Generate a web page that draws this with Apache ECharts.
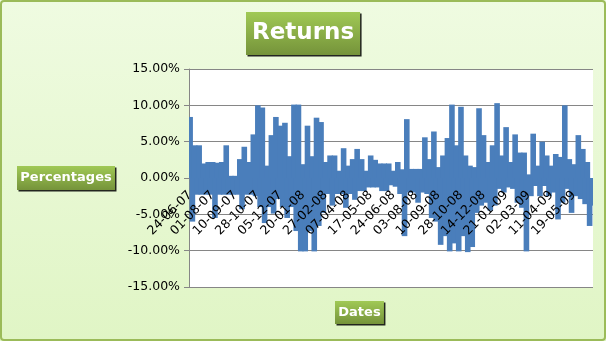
<!DOCTYPE html>
<html>
<head>
<meta charset="utf-8">
<script src="https://cdn.jsdelivr.net/npm/echarts@6/dist/echarts.min.js"></script>
<style>
html,body{margin:0;padding:0;background:#fff;}
#c{width:606px;height:341px;}
</style>
</head>
<body>
<div id="c"></div>
<script>
// Tick-label dates (one every 10 bars)
var tickDates = ['24-06-07','01-08-07','10-09-07','28-10-07','05-12-07','20-01-08',
  '27-02-08','07-04-08','17-05-08','24-06-08','03-08-08','10-09-08',
  '28-10-08','14-12-08','21-01-09','02-03-09','11-04-09','19-05-09'];
var barsPerTick = 10;
// Returns (%), 10 values per tick period
var returns = [
  8.4, -6.0, 4.5, -2.3, 4.5, -2.3, 2.0, -2.3, 2.2, -2.3,
  2.2, -5.5, 2.1, -2.3, 2.2, -2.3, 4.5, -2.3, 0.3, -2.3,
  0.3, -2.3, 2.6, -4.3, 4.3, -2.3, 2.2, -2.3, 6.0, -2.5,
  10.0, -4.0, 9.7, -6.2, 1.7, -4.0, 5.9, -4.9, 8.4, -2.9,
  7.2, -4.0, 7.6, -5.5, 3.0, -4.0, 10.1, -7.3, 10.1, -10.1,
  1.9, -10.1, 7.2, -7.3, 3.0, -10.1, 8.3, -6.6, 7.7, -4.8,
  2.2, -2.2, 3.1, -3.8, 3.1, -2.2, 1.0, -2.2, 4.1, -4.1,
  1.7, -2.2, 2.6, -3.0, 4.0, -1.8, 2.6, -1.8, 1.0, -1.3,
  3.1, -1.3, 2.5, -1.3, 2.0, -1.8, 2.0, -1.8, 2.0, -1.0,
  1.0, -1.2, 2.2, -2.2, 1.2, -8.0, 8.1, -2.0, 1.25, -2.0,
  1.25, -3.4, 1.25, -2.0, 5.6, -2.2, 2.6, -5.5, 6.4, -6.0,
  1.5, -9.2, 3.1, -8.0, 5.5, -10.1, 10.1, -9.0, 4.5, -10.1,
  9.8, -8.0, 3.1, -10.2, 1.7, -9.5, 1.5, -4.8, 9.6, -3.8,
  5.9, -3.4, 2.2, -4.5, 4.5, -3.8, 10.3, -1.5, 3.1, -2.0,
  7.0, -1.3, 2.2, -1.5, 6.0, -3.4, 3.5, -4.1, 3.5, -10.1,
  0.5, -2.5, 6.1, -1.1, 1.7, -2.5, 5.0, -1.1, 3.1, -2.5,
  1.7, -2.0, 3.3, -5.7, 2.9, -3.4, 10.0, -1.5, 2.6, -4.8,
  1.9, -2.5, 5.9, -2.9, 4.0, -3.6, 2.2, -6.6, -3.8
];
var yTicks = [-15, -10, -5, 0, 5, 10, 15];

var categories = returns.map(function (v, i) {
  return i % barsPerTick === 0 ? (tickDates[i / barsPerTick] || '') : '';
});

var FONT = 'DejaVu Sans';
var GRID = {left: 189, right: 13, top: 69, bottom: 54};
var plotH = 341 - GRID.top - GRID.bottom;
// distance from the bottom of the plot to the 0% line
var zeroOffset = plotH * (0 - yTicks[0]) / (yTicks[yTicks.length - 1] - yTicks[0]);

function greenGrad() {
  return new echarts.graphic.LinearGradient(0, 0, 0, 1, [
    {offset: 0, color: '#a0c955'},
    {offset: 1, color: '#75933a'}
  ]);
}
function boxTitle(text, left, top, size, lh, pad) {
  return {
    text: text, left: left, top: top, padding: pad,
    backgroundColor: greenGrad(),
    shadowColor: 'rgba(0,0,0,0.85)', shadowOffsetX: 1.5, shadowOffsetY: 1.5, shadowBlur: 0,
    textStyle: {color: '#ffffff', fontSize: size, fontWeight: 'bold', fontFamily: FONT, lineHeight: lh}
  };
}

var chart = echarts.init(document.getElementById('c'), null, {renderer: 'canvas'});
chart.setOption({
  animation: false,
  backgroundColor: {
    type: 'linear', x: 0, y: 0, x2: 0, y2: 1,
    colorStops: [{offset: 0, color: '#effbe1'}, {offset: 1, color: '#e0f5c5'}]
  },
  title: [
    boxTitle('Returns', 246, 12, 23, 29, [7, 6, 7, 6]),
    boxTitle('Percentages', 17, 166, 13, 16, [4, 3.3, 4, 3.3]),
    boxTitle('Dates', 335, 301, 13, 15, [4, 3.3, 4, 3.3])
  ],
  graphic: [{
    type: 'rect', silent: true, z: 100,
    shape: {x: 1, y: 1, width: 604, height: 339, r: 3},
    style: {fill: 'none', stroke: '#9bbb59', lineWidth: 2}
  }],
  grid: {
    left: GRID.left, right: GRID.right, top: GRID.top, bottom: GRID.bottom,
    show: true, backgroundColor: '#ffffff', borderWidth: 0
  },
  xAxis: {
    type: 'category',
    data: categories,
    boundaryGap: true,
    z: 5,
    offset: -zeroOffset,
    axisLine: {show: false, onZero: false},
    axisTick: {show: false},
    axisLabel: {interval: barsPerTick - 1, rotate: 45, margin: 15, color: '#000',
      fontSize: 12.5, fontFamily: FONT},
    splitLine: {show: false}
  },
  yAxis: {
    type: 'value',
    min: yTicks[0], max: yTicks[yTicks.length - 1], interval: 5,
    axisLine: {show: true, lineStyle: {color: '#868686'}},
    axisTick: {show: true, length: 5, lineStyle: {color: '#868686'}},
    axisLabel: {color: '#000', fontSize: 12.5, fontFamily: FONT, margin: 9,
      formatter: function (v) { return v.toFixed(2) + '%'; }},
    splitLine: {show: true, lineStyle: {color: '#868686', width: 1}}
  },
  series: [{
    type: 'bar',
    data: returns,
    barWidth: 5.6,
    itemStyle: {color: '#4a7ebb', borderWidth: 0},
    emphasis: {disabled: true}
  }]
});
</script>
</body>
</html>
